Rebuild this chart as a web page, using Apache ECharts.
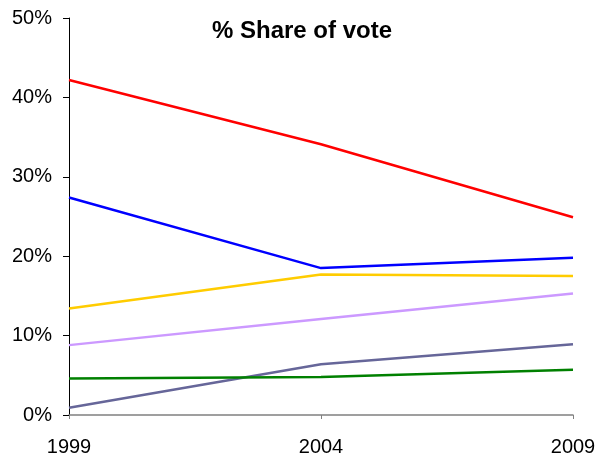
<!DOCTYPE html>
<html>
<head>
<meta charset="utf-8">
<script src="https://cdn.jsdelivr.net/npm/echarts@6/dist/echarts.min.js"></script>
<style>html,body{margin:0;padding:0;background:#fff}#c{width:599px;height:457px}</style>
</head>
<body>
<div id="c"></div>
<script>
const years = ['1999', '2004', '2009'];
const redSeries = [42.2, 34.1, 24.9];
const blueSeries = [27.4, 18.5, 19.8];
const yellowSeries = [13.4, 17.7, 17.5];
const lilacSeries = [8.8, 12.1, 15.3];
const slateSeries = [0.9, 6.4, 8.9];
const greenSeries = [4.6, 4.8, 5.7];
const yTicks = [0, 10, 20, 30, 40, 50];

const seriesList = [
  {name: 'Red', data: redSeries, color: '#FF0000'},
  {name: 'Blue', data: blueSeries, color: '#0000FF'},
  {name: 'Yellow', data: yellowSeries, color: '#FFCC00'},
  {name: 'Lilac', data: lilacSeries, color: '#CC99FF'},
  {name: 'Slate', data: slateSeries, color: '#666699'},
  {name: 'Green', data: greenSeries, color: '#008000'}
];

const chart = echarts.init(document.getElementById('c'), null, {renderer: 'canvas'});
chart.setOption({
  animation: false,
  backgroundColor: '#ffffff',
  title: {
    text: '% Share of vote',
    left: 297, top: 14, textAlign: 'center',
    textStyle: {fontFamily: 'Liberation Sans, Arial, sans-serif', fontSize: 24, fontWeight: 'bold', color: '#000'}
  },
  grid: {left: 69, right: 26, top: 18, bottom: 41.5},
  xAxis: {
    type: 'category', data: years, boundaryGap: false,
    axisLine: {lineStyle: {color: '#808080', width: 1.5}},
    axisTick: {show: true, length: 4, lineStyle: {color: '#808080'}},
    axisLabel: {fontFamily: 'Liberation Sans, Arial, sans-serif', fontSize: 20, color: '#000', margin: 22},
    splitLine: {show: false}
  },
  yAxis: {
    type: 'value', min: yTicks[0], max: yTicks[yTicks.length - 1], interval: 10,
    axisLine: {show: true, lineStyle: {color: '#000', width: 1}},
    axisTick: {show: true, length: 6, lineStyle: {color: '#000'}},
    axisLabel: {fontFamily: 'Liberation Sans, Arial, sans-serif', fontSize: 20, color: '#000', margin: 17, formatter: v => v + '%'},
    splitLine: {show: false}
  },
  series: seriesList.map(s => ({
    name: s.name, type: 'line', data: s.data, symbol: 'none',
    lineStyle: {color: s.color, width: 2.5}, itemStyle: {color: s.color}
  }))
});
</script>
</body>
</html>
